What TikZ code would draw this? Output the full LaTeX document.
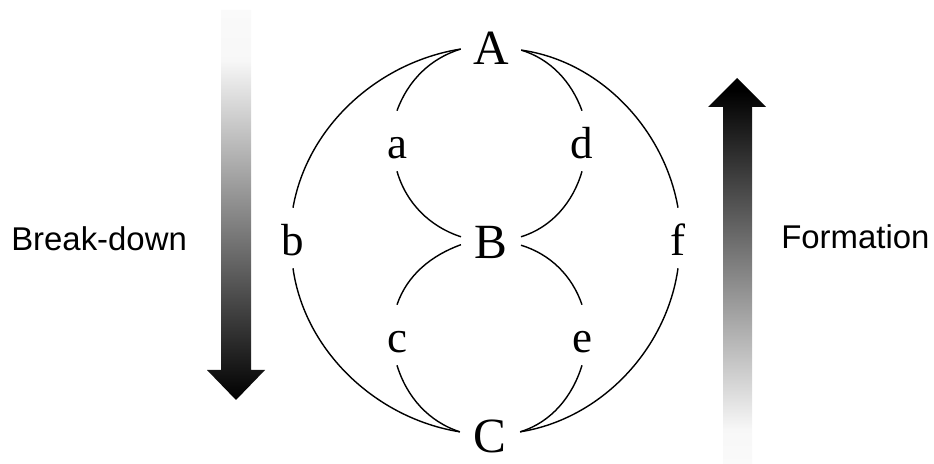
\documentclass[tikz,border=0pt]{standalone}
\usepackage{fontspec}
\setmainfont{Liberation Serif}
\newfontfamily\labelfont{Liberation Sans}
\pgfdeclareverticalshading{breakdownfade}{100bp}{color(0bp)=(black); color(25bp)=(black);
  color(68.6bp)=(black!3); color(75bp)=(black!2); color(100bp)=(black!2)}
\pgfdeclareverticalshading{formationfade}{100bp}{color(0bp)=(black!2); color(25bp)=(black!2);
  color(29.4bp)=(black!3); color(73.4bp)=(black); color(100bp)=(black)}

\begin{document}
\begin{tikzpicture}[x=0.025cm,y=-0.025cm,
    big/.style={circle,inner sep=0pt,minimum size=1.5cm,text height=0.85cm,text depth=0pt,font=\fontsize{35}{40}\selectfont},
    small/.style={circle,inner sep=0pt,minimum size=1.5cm,text height=0.85cm,text depth=0pt,font=\fontsize{32}{36}\selectfont},
    link/.style={line width=1pt,looseness=0.92}]
    \useasboundingbox (0,0) rectangle (934,464);
    % gradient arrows
    \shade[shading=breakdownfade] (221,10) -- (251,10) -- (251,370) -- (265,370) -- (236,400)
        -- (207,370) -- (221,370) -- cycle;
    \shade[shading=formationfade] (723,464) -- (752,464) -- (752,107) -- (766,107) -- (737,78)
        -- (708,107) -- (723,107) -- cycle;
    \node[anchor=base west,inner sep=0pt,font=\labelfont\fontsize{23.4}{28}\selectfont] (breakdown) at (11,251) {Break-down};
    \node[anchor=base west,inner sep=0pt,font=\labelfont\fontsize{23.4}{28}\selectfont] (formation) at (781,249) {Formation};
    % states
    \node[big] (A) at (491,48) {A};
    \node[big] (B) at (491,241) {B};
    \node[big] (C) at (490,435) {C};
    % paths
    \node[small] (a) at (397,141) {a};
    \node[small] (d) at (582,141) {d};
    \node[small] (b) at (293,238) {b};
    \node[small] (f) at (678,238) {f};
    \node[small] (c) at (397,335) {c};
    \node[small] (e) at (582,335) {e};
    % outer circle
    \draw[link] (A.182) to[out=189,in=80] (b.north);
    \draw[link] (b.south) to[out=278,in=171] (C.174);
    \draw[link] (A.356) to[out=-8,in=100] (f.north);
    \draw[link] (f.south) to[out=262,in=9] (C.6);
    % upper circle
    \draw[link] (A.182) to[out=197,in=70] (a.north);
    \draw[link] (a.south) to[out=286,in=162] (B.172);
    \draw[link] (A.356) to[out=-17,in=110] (d.north);
    \draw[link] (d.south) to[out=254,in=17] (B.8);
    % lower circle
    \draw[link] (B.187) to[out=200,in=71] (c.north);
    \draw[link] (c.south) to[out=287,in=162] (C.174);
    \draw[link] (B.352) to[out=-17,in=109] (e.north);
    \draw[link] (e.south) to[out=253,in=17] (C.6);
\end{tikzpicture}
\end{document}
